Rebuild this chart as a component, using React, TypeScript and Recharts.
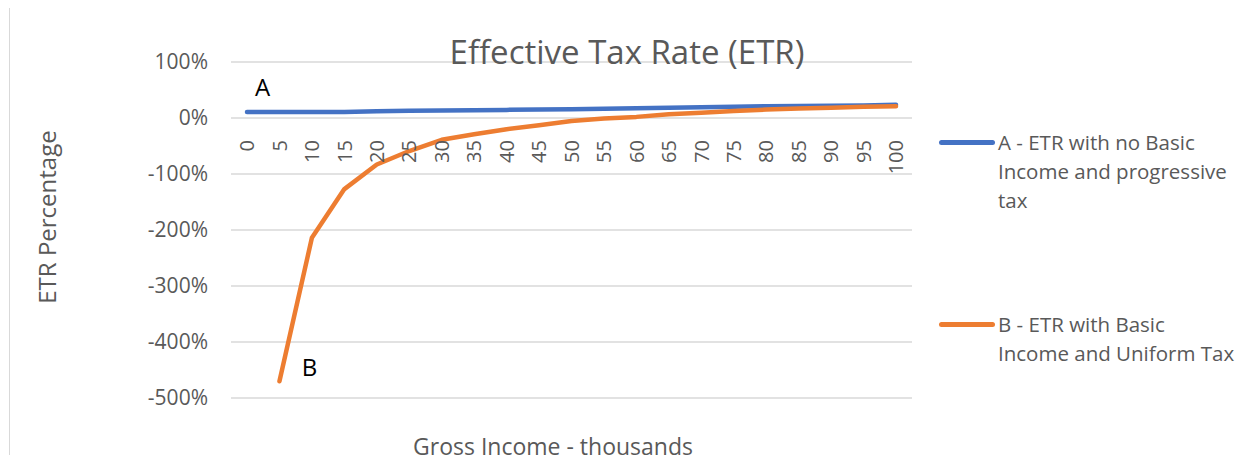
import React from 'react';
import { LineChart, Line, XAxis, YAxis, CartesianGrid, Legend } from 'recharts';

const categories = ['0', '5', '10', '15', '20', '25', '30', '35', '40', '45', '50', '55', '60', '65', '70', '75', '80', '85', '90', '95', '100'];
const seriesA = [10.5, 10.5, 10.5, 10.5, 12, 13, 13.5, 14, 14.5, 15, 15.5, 16.5, 17.5, 18.5, 19, 20, 21, 21.5, 22, 22.5, 23.5];
const seriesB: (number | null)[] = [null, -470, -214, -127, -83, -59, -39, -29, -20, -13, -5.5, -1, 2, 6.5, 9.5, 12.5, 15, 17, 18.5, 20, 21];
const yTicks = [100, 0, -100, -200, -300, -400, -500];

const nameA = 'A - ETR with no Basic Income and progressive tax';
const nameB = 'B - ETR with Basic Income and Uniform Tax';
const legendLinesA = ['A - ETR with no Basic', 'Income and progressive', 'tax'];
const legendLinesB = ['B - ETR with Basic', 'Income and Uniform Tax'];

const data = categories.map((c, i) => ({ cat: c, a: seriesA[i], b: seriesB[i] }));

const FONT = '"Open Sans", sans-serif';
const GREY = '#595959';
const BLUE = '#4472C4';
const ORANGE = '#ED7D31';

const XTick = (props: any) => {
  const { x, payload } = props;
  return (
    <text
      transform={`translate(${x},140) rotate(-90)`}
      textAnchor="end"
      dy="0.36em"
      fill={GREY}
      fontSize={20}
      fontFamily={FONT}
    >
      {payload.value}
    </text>
  );
};

const legendLines: Record<string, string[]> = { a: legendLinesA, b: legendLinesB };
const legendTops: Record<string, number> = { a: 0, b: 182 };

const LegendContent = (props: any) => {
  const { payload } = props;
  return (
    <div style={{ position: 'relative', width: 307, height: 0, fontFamily: FONT }}>
      {(payload || []).map((p: any) => {
        const key = p.dataKey as string;
        const top = legendTops[key];
        return (
          <div key={key} style={{ position: 'absolute', left: 0, top }}>
            <div
              style={{
                position: 'absolute',
                left: 0,
                top: 12.5,
                width: 56,
                height: 4.5,
                borderRadius: 3,
                background: p.color,
              }}
            />
            <div
              style={{
                position: 'absolute',
                left: 59,
                top: 0,
                width: 260,
                fontSize: 20.5,
                lineHeight: '29px',
                color: GREY,
                whiteSpace: 'nowrap',
              }}
            >
              {legendLines[key].map((l) => (
                <div key={l}>{l}</div>
              ))}
            </div>
          </div>
        );
      })}
    </div>
  );
};

const centered = (cx: number, cy: number, size: number, color: string, text: string, extra: any = {}) => (
  <div
    style={{
      position: 'absolute',
      left: cx - 300,
      top: cy - 25,
      width: 600,
      height: 50,
      lineHeight: '50px',
      textAlign: 'center',
      fontSize: size,
      color,
      fontFamily: FONT,
      whiteSpace: 'nowrap',
      pointerEvents: 'none',
      ...extra,
    }}
  >
    {text}
  </div>
);

export default function App() {
  return (
    <div
      style={{
        position: 'relative',
        width: 1246,
        height: 463,
        margin: '-8px 0 -8px -8px',
        overflow: 'hidden',
        background: '#fff',
        fontFamily: FONT,
      }}
    >
      <div
        style={{
          position: 'absolute',
          left: 9,
          top: 7,
          width: 1300,
          height: 500,
          borderTop: '1.5px solid #d9d9d9',
          borderLeft: '1.5px solid #d9d9d9',
          boxSizing: 'border-box',
        }}
      />
      <div style={{ position: 'absolute', left: 0, top: 0 }}>
        <LineChart width={1246} height={463} data={data} margin={{ top: 62, right: 334, bottom: 64, left: 171 }}>
          <CartesianGrid vertical={false} stroke="#d9d9d9" strokeWidth={1.3} />
          <XAxis
            dataKey="cat"
            type="category"
            padding={{ left: 16, right: 16 }}
            axisLine={false}
            tickLine={false}
            interval={0}
            height={1}
            tick={(p: any) => <XTick {...p} />}
          />
          <YAxis
            type="number"
            domain={[-500, 100]}
            ticks={yTicks}
            width={60}
            axisLine={false}
            tickLine={false}
            tickSize={6}
            tickMargin={17}
            tickFormatter={(v: number) => `${v}%`}
            tick={{ fill: GREY, fontSize: 21, fontFamily: FONT }}
            interval={0}
          />
          <Line
            dataKey="a"
            name={nameA}
            stroke={BLUE}
            strokeWidth={4.5}
            strokeLinecap="round"
            strokeLinejoin="round"
            dot={false}
            activeDot={false}
            isAnimationActive={false}
          />
          <Line
            dataKey="b"
            name={nameB}
            stroke={ORANGE}
            strokeWidth={4.5}
            strokeLinecap="round"
            strokeLinejoin="round"
            dot={false}
            activeDot={false}
            isAnimationActive={false}
          />
          <Legend
            layout="horizontal"
            align="center"
            verticalAlign="middle"
            wrapperStyle={{ left: 939, top: 127.5, width: 307, height: 0 }}
            content={<LegendContent />}
          />
        </LineChart>
      </div>
      {centered(627, 52, 33, GREY, 'Effective Tax Rate (ETR)')}
      {centered(553, 446, 23, GREY, 'Gross Income - thousands')}
      {centered(47, 217, 24, GREY, 'ETR Percentage', { transform: 'rotate(-90deg)' })}
      {centered(262.5, 86.5, 24, '#000', 'A')}
      {centered(309.5, 367, 24, '#000', 'B')}
    </div>
  );
}
